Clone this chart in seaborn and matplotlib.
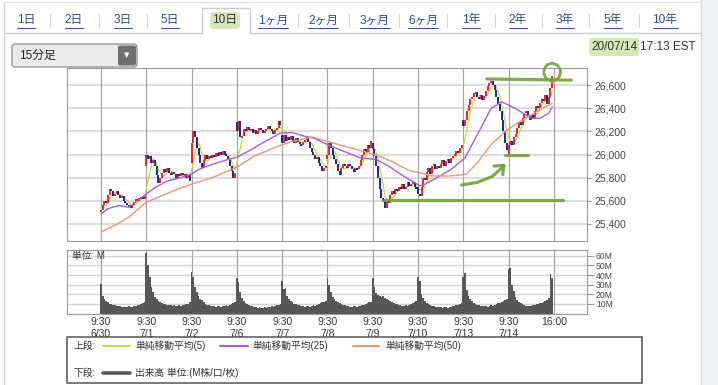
import numpy as np
import pandas as pd
import matplotlib
matplotlib.use("Agg")
import matplotlib.pyplot as plt
from matplotlib.patches import Rectangle, FancyBboxPatch, Ellipse
import seaborn as sns

sns.set_style("white")
plt.rcParams['font.family'] = ['Liberation Sans', 'Noto Sans CJK JP', 'DejaVu Sans']

W, H = 718, 385

# ---------------- data ----------------
tab_labels = ["1日", "2日", "3日", "5日", "10日", "1ヶ月", "2ヶ月", "3ヶ月", "6ヶ月",
              "1年", "2年", "3年", "5年", "10年"]
selected_tab = "10日"
interval_label = "15分足"
stamp_date = "20/07/14"
stamp_time = "17:13 EST"

day_labels = ["6/30", "7/1", "7/2", "7/6", "7/7", "7/8", "7/9", "7/10", "7/13", "7/14"]
bars_per_day = 26
price_ticks = [25400, 25600, 25800, 26000, 26200, 26400, 26600]
vol_ticks = [10, 20, 30, 40, 50, 60]

day_open = [25500, 25900, 25930, 26280, 26170, 25960, 26100, 25720, 26300, 26000]

close_0630 = [25520, 25560, 25600, 25580, 25650, 25700, 25680, 25640, 25660, 25680, 25650, 25620, 25640,
              25600, 25580, 25560, 25550, 25540, 25560, 25590, 25610, 25600, 25620, 25630, 25610, 25640]
close_0701 = [26000, 25960, 25990, 25930, 25950, 25900, 25820, 25750, 25800, 25840, 25870, 25850, 25880,
              25840, 25820, 25850, 25830, 25800, 25830, 25810, 25840, 25820, 25830, 25800, 25820, 25770]
close_0702 = [26100, 26200, 26150, 26060, 26000, 25930, 25880, 25950, 26000, 25960, 25990, 25970, 26000,
              25980, 26010, 25990, 26020, 26000, 26030, 26000, 25990, 25950, 25900, 25860, 25800, 25840]
close_0706 = [26200, 26290, 26150, 26160, 26220, 26200, 26240, 26210, 26220, 26190, 26210, 26180, 26200,
              26230, 26210, 26190, 26200, 26220, 26250, 26220, 26200, 26180, 26210, 26230, 26290, 26260]
close_0707 = [26100, 26170, 26120, 26150, 26130, 26160, 26120, 26100, 26140, 26110, 26090, 26080, 26110,
              26130, 26150, 26110, 26060, 26020, 26000, 25960, 25980, 25930, 25900, 25860, 25880, 25900]
close_0708 = [26000, 26100, 26060, 26000, 25960, 25920, 25860, 25820, 25880, 25920, 25900, 25880, 25920,
              25900, 25870, 25850, 25880, 25870, 25900, 25950, 26000, 26050, 26020, 26080, 26060, 26120]
close_0709 = [26050, 25990, 25900, 25800, 25700, 25620, 25600, 25540, 25600, 25580, 25650, 25680, 25660,
              25700, 25680, 25720, 25700, 25740, 25700, 25720, 25760, 25730, 25740, 25760, 25720, 25700]
close_0710 = [25660, 25640, 25720, 25800, 25780, 25850, 25880, 25830, 25900, 25920, 25870, 25900, 25880,
              25920, 25950, 25900, 25940, 25960, 25930, 25970, 25990, 26000, 26030, 26010, 26060, 26080]
close_0713 = [26250, 26300, 26380, 26430, 26480, 26500, 26530, 26540, 26500, 26480, 26520, 26470, 26510,
              26550, 26590, 26620, 26640, 26600, 26560, 26500, 26440, 26380, 26300, 26200, 26100, 26040]
close_0714 = [26080, 26120, 26080, 26150, 26180, 26230, 26280, 26260, 26320, 26360, 26380, 26340, 26300,
              26340, 26320, 26380, 26420, 26400, 26450, 26480, 26460, 26520, 26440, 26500, 26580, 26680]

vol_0630 = [31, 18, 15, 13, 12, 10, 10, 9, 9, 8, 8, 8, 7, 7, 7, 7, 8, 7, 7, 8, 8, 9, 9, 10, 11, 12]
vol_0701 = [63, 50, 38, 28, 22, 17, 15, 13, 12, 11, 10, 10, 9, 9, 9, 8, 9, 8, 8, 9, 8, 9, 9, 10, 10, 12]
vol_0702 = [43, 38, 28, 22, 18, 15, 14, 12, 10, 9, 9, 8, 8, 8, 7, 8, 8, 7, 8, 8, 9, 8, 9, 10, 11, 12]
vol_0706 = [37, 33, 22, 16, 13, 11, 10, 9, 8, 8, 7, 7, 6, 7, 6, 6, 7, 6, 7, 7, 8, 7, 8, 9, 9, 10]
vol_0707 = [34, 25, 27, 18, 15, 13, 12, 10, 10, 9, 9, 8, 8, 7, 8, 8, 7, 8, 9, 8, 9, 10, 11, 12, 12, 13]
vol_0708 = [37, 30, 22, 17, 15, 13, 12, 11, 10, 9, 9, 8, 8, 7, 7, 8, 8, 7, 8, 8, 9, 9, 10, 11, 12, 12]
vol_0709 = [37, 28, 21, 19, 18, 17, 18, 16, 15, 14, 13, 12, 11, 10, 10, 9, 9, 8, 8, 9, 8, 9, 10, 11, 12, 13]
vol_0710 = [38, 34, 20, 16, 13, 11, 10, 9, 8, 8, 7, 7, 7, 7, 6, 7, 7, 6, 7, 7, 8, 8, 9, 9, 10, 11]
vol_0713 = [38, 42, 24, 18, 15, 13, 11, 10, 9, 9, 8, 8, 8, 8, 7, 8, 9, 8, 9, 10, 11, 11, 12, 13, 14, 15]
vol_0714 = [46, 47, 30, 23, 17, 14, 12, 11, 10, 9, 8, 8, 8, 8, 9, 9, 10, 10, 11, 11, 12, 13, 14, 16, 41, 37]

# moving averages (25 / 50) at bar positions
ma25_bar = [0, 4, 10, 16, 21, 26, 31, 38, 46, 52, 56, 64, 73, 78, 88, 91, 103, 110, 117, 122, 130, 139,
            149, 158, 165, 175, 183, 186, 193, 201, 209, 216, 224, 230, 236, 241, 247, 252, 257, 259]
ma25_val = [25485, 25530, 25557, 25543, 25600, 25657, 25714, 25770, 25800, 25830, 25870, 25915, 25957,
            25975, 26057, 26086, 26186, 26190, 26157, 26143, 26086, 26030, 25970, 25957, 25900, 25800,
            25730, 25743, 25800, 25871, 25971, 26171, 26400, 26457, 26414, 26371, 26314, 26314, 26357, 26414]
ma50_bar = [0, 8, 16, 26, 35, 44, 52, 64, 78, 88, 103, 110, 121, 130, 140, 150, 159, 167, 177, 183,
            190, 201, 210, 216, 224, 232, 239, 247, 255, 259]
ma50_val = [25329, 25386, 25457, 25586, 25643, 25700, 25743, 25800, 25890, 25986, 26080, 26114, 26150,
            26114, 26071, 26030, 25990, 25940, 25860, 25843, 25814, 25814, 25830, 25930, 26086, 26200,
            26271, 26343, 26414, 26443]

# green hand-drawn marks (price levels)
mark_top = 26650
mark_mid = 26000
mark_low = 25605

# ---------------- assemble ----------------
closes_by_day = [close_0630, close_0701, close_0702, close_0706, close_0707,
                 close_0708, close_0709, close_0710, close_0713, close_0714]
vols_by_day = [vol_0630, vol_0701, vol_0702, vol_0706, vol_0707,
               vol_0708, vol_0709, vol_0710, vol_0713, vol_0714]
closes = np.concatenate(closes_by_day).astype(float)
opens = np.concatenate([[day_open[d]] + closes_by_day[d][:-1] for d in range(len(closes_by_day))]).astype(float)
vols = np.concatenate(vols_by_day).astype(float)
n = len(closes)
idx = np.arange(n)
df = pd.DataFrame({"bar": idx, "open": opens, "close": closes, "vol": vols})
df["ma5"] = df["close"].rolling(5, min_periods=1).mean()
day_starts = [d * bars_per_day for d in range(len(day_labels))]
end_bar = n

# ---------------- figure ----------------
fig = plt.figure(figsize=(W / 100, H / 100), dpi=100)
fig.patch.set_facecolor("white")


def frac(x0, y0, x1, y1):
    return [x0 / W, 1 - y1 / H, (x1 - x0) / W, (y1 - y0) / H]


bg = fig.add_axes([0, 0, 1, 1], zorder=-5)
bg.set_xlim(0, W); bg.set_ylim(H, 0); bg.axis("off")
ov = fig.add_axes([0, 0, 1, 1], zorder=10)
ov.set_xlim(0, W); ov.set_ylim(H, 0); ov.axis("off"); ov.patch.set_alpha(0)

# frame
bg.add_patch(Rectangle((701, 0), 17, H, color="#eef1f6", lw=0))
bg.plot([701, 701], [0, H], color="#d3d9e2", lw=1)
bg.plot([4, 4], [2, H], color="#d0d0d0", lw=1)
bg.plot([4, 701], [2, 2], color="#e2e2e2", lw=1)
bg.plot([4, 202], [33, 33], color="#cfcfcf", lw=1)
bg.plot([250, 701], [33, 33], color="#cfcfcf", lw=1)
bg.plot([202, 202, 250, 250], [33, 8, 8, 33], color="#cfcfcf", lw=1)

# tabs
tab_x = [26, 74, 123, 170, 225, 273, 323, 375, 423, 471, 518, 565, 613, 665]
sel = tab_labels.index(selected_tab)
bg.add_patch(FancyBboxPatch((210, 12), 30, 17, boxstyle="round,pad=0,rounding_size=4",
                            fc="#d3e9b6", ec="none"))
tab_texts = []
for i, (lab, tx) in enumerate(zip(tab_labels, tab_x)):
    if i == sel:
        ov.text(tx, 20.5, lab, ha="center", va="center", fontsize=8.5, color="#333333")
    else:
        t = ov.text(tx, 20.5, lab, ha="center", va="center", fontsize=8.5, color="#2b4c9e")
        tab_texts.append(t)
    if i < len(tab_labels) - 1 and i not in (sel - 1, sel):
        mx = (tab_x[i] + tab_x[i + 1]) / 2
        ov.plot([mx, mx], [14, 27], color="#d6d6d6", lw=0.8)

# dropdown
bg.add_patch(FancyBboxPatch((12, 44), 125, 23, boxstyle="round,pad=0,rounding_size=3",
                            fc="#ebebeb", ec="#8c8c8c", lw=0.9))
bg.add_patch(FancyBboxPatch((118, 45.5), 18, 20, boxstyle="round,pad=0,rounding_size=2",
                            fc="#6f6f6f", ec="none"))
ov.text(19, 56, interval_label, ha="left", va="center", fontsize=8.5, color="#222222")
ov.text(127, 55.5, "▼", ha="center", va="center", fontsize=5, color="white",
        family=["DejaVu Sans"])

# timestamp
t_time = ov.text(696, 47, stamp_time, ha="right", va="center", fontsize=8.5, color="#333333")

# ---------------- main price axes ----------------
ax = fig.add_axes(frac(67, 68, 587, 241))
ax.set_xlim(-19.5, 279)
ax.set_ylim(25250, 26750)
for yv in price_ticks:
    ax.axhline(yv, color="#d2d2d2", lw=1.1, zorder=0)
for xv in day_starts + [end_bar]:
    ax.axvline(xv, color="#a3a3a3", lw=0.8, zorder=0)

up = df["close"] >= df["open"]
lo = np.minimum(df["open"], df["close"]).to_numpy()
hi = np.maximum(df["open"], df["close"]).to_numpy()
mid = (lo + hi) / 2
small = (hi - lo) < 16
lo = np.where(small, mid - 8, lo)
hi = np.where(small, mid + 8, hi)
ax.vlines(df["bar"][up], lo[up], hi[up], color="#e8262b", lw=1.4, zorder=3)
ax.vlines(df["bar"][~up], lo[~up], hi[~up], color="#1b2a8c", lw=1.4, zorder=3)

sns.lineplot(x=df["bar"], y=df["ma5"], ax=ax, color="#c4d84a", lw=0.9, zorder=2.5, legend=False)
sns.lineplot(x=ma25_bar, y=ma25_val, ax=ax, color="#a65be3", lw=1.0, zorder=4, legend=False)
sns.lineplot(x=ma50_bar, y=ma50_val, ax=ax, color="#ec9577", lw=1.0, zorder=4, legend=False)

ax.set_xlabel(""); ax.set_ylabel("")
ax.set_xticks([])
ax.yaxis.tick_right()
ax.set_yticks(price_ticks)
ax.set_yticklabels([f"{v:,}" for v in price_ticks])
ax.tick_params(axis="y", right=True, length=3, width=0.8, color="#9a9a9a", pad=2,
               labelsize=7.5, labelcolor="#444444")
for s in ax.spines.values():
    s.set_color("#9a9a9a"); s.set_linewidth(0.8)

# green hand-drawn marks
g = dict(color="#72a13a", lw=2.3, alpha=0.9, solid_capstyle="round", clip_on=False, zorder=6)
ax.plot([221.5, 270], [mark_top + 5, mark_top - 5], **g)
ax.plot([232, 245], [mark_mid, mark_mid], **g)
ax.plot([162, 265], [mark_low, mark_low], **g)
ax.plot([207, 216, 224.5, 231.3], [25736, 25758, 25808, 25900], **g)
ax.plot([225.6, 231.3, 230.6], [25900, 25905, 25825], **g)
ax.add_patch(Ellipse((259, 26715), 9.5, 150, fill=False, ec="#72a13a", lw=2.0, alpha=0.9,
                     clip_on=False, zorder=6))

# ---------------- volume axes ----------------
vx = fig.add_axes(frac(67, 250, 587, 313.5))
vx.set_xlim(-19.5, 279)
vx.set_ylim(0, 66)
for yv in vol_ticks:
    vx.axhline(yv, color="#d2d2d2", lw=1.0, zorder=0)
for xv in day_starts + [end_bar]:
    vx.axvline(xv, color="#a3a3a3", lw=0.8, zorder=0)
vx.bar(df["bar"], df["vol"], width=1.0, color="#575757", lw=0, zorder=2)
vx.set_yticks(vol_ticks)
vx.yaxis.tick_right()
vx.set_yticklabels([f"{v}M" for v in vol_ticks])
vx.tick_params(axis="y", right=True, length=5, width=0.8, color="#9a9a9a", pad=1.5,
               labelsize=6.2, labelcolor="#444444")
vx.set_xticks(day_starts + [end_bar])
vx.set_xticklabels([f"9:30\n{d}" for d in day_labels] + ["16:00"], fontsize=7.5, color="#333333",
                   linespacing=1.25)
vx.tick_params(axis="x", length=0, pad=2.5)
for s in vx.spines.values():
    s.set_color("#9a9a9a"); s.set_linewidth(0.8)
vx.text(0.01, 0.9, "単位: M", transform=vx.transAxes, ha="left", va="center", fontsize=7,
        color="#333333")

# ---------------- legend box ----------------
ov.add_patch(Rectangle((67, 337), 575, 46, fill=False, ec="#555555", lw=1.1))
fs = 7
ov.text(73, 346, "上段:", ha="left", va="center", fontsize=fs, color="#333333")
ov.plot([103, 130], [346, 346], color="#c4d84a", lw=1.5)
ov.text(135, 346, "単純移動平均(5)", ha="left", va="center", fontsize=fs, color="#333333")
ov.plot([220, 248], [346, 346], color="#a65be3", lw=1.5)
ov.text(252, 346, "単純移動平均(25)", ha="left", va="center", fontsize=fs, color="#333333")
ov.plot([353, 379], [346, 346], color="#ec9577", lw=1.5)
ov.text(385, 346, "単純移動平均(50)", ha="left", va="center", fontsize=fs, color="#333333")
ov.text(73, 373, "下段:", ha="left", va="center", fontsize=fs, color="#333333")
ov.plot([103, 130], [373, 373], color="#555555", lw=2.6)
ov.text(135, 373, "出来高 単位:(M株/口/枚)", ha="left", va="center", fontsize=fs, color="#333333")

# ---------------- underlines & date highlight (need text extents) ----------------
fig.canvas.draw()
r = fig.canvas.get_renderer()
inv = ov.transData.inverted()
for t in tab_texts:
    bb = t.get_window_extent(r)
    (x0, y0), (x1, y1) = inv.transform([[bb.x0, bb.y0], [bb.x1, bb.y1]])
    ov.plot([x0, x1], [27.5, 27.5], color="#2b4c9e", lw=0.7)
bb = t_time.get_window_extent(r)
(tx0, _), _ = inv.transform([[bb.x0, bb.y0], [bb.x1, bb.y1]])
t_date = ov.text(tx0 - 3, 47, stamp_date, ha="right", va="center", fontsize=8.5, color="#333333")
fig.canvas.draw()
bb = t_date.get_window_extent(r)
(dx0, _), (dx1, _) = inv.transform([[bb.x0, bb.y0], [bb.x1, bb.y1]])
bg.add_patch(FancyBboxPatch((dx0 - 2, 38), dx1 - dx0 + 4, 18, boxstyle="round,pad=0,rounding_size=3",
                            fc="#d3e9b6", ec="none"))

fig.savefig("out.png", dpi=100)
